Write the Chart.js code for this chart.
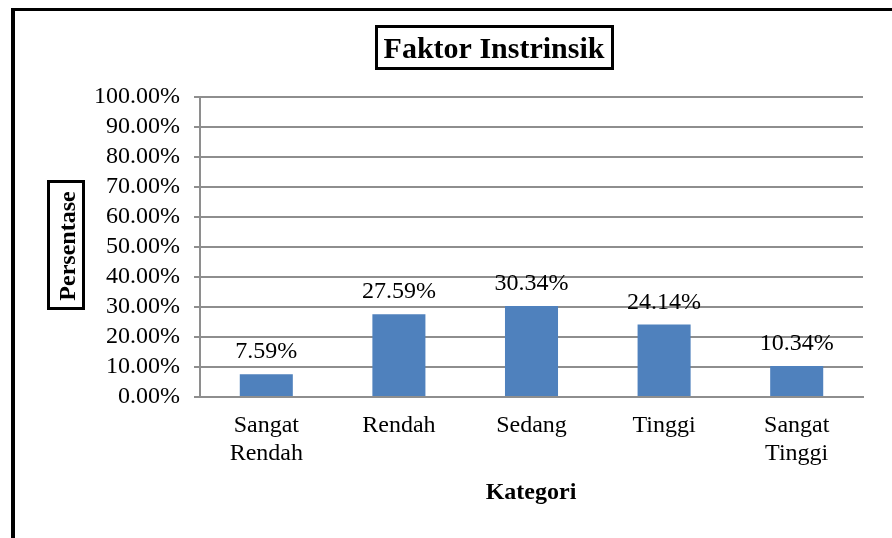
<!DOCTYPE html>
<html>
<head>
<meta charset="utf-8">
<script src="https://cdn.jsdelivr.net/npm/chart.js@4/dist/chart.umd.min.js"></script>
<style>
  html, body { margin: 0; padding: 0; background: #ffffff; }
  #wrap { width: 892px; height: 538px; position: relative; }
</style>
</head>
<body>
<div id="wrap"><canvas id="c" width="892" height="538"></canvas></div>
<script>
const categories = [["Sangat", "Rendah"], "Rendah", "Sedang", "Tinggi", ["Sangat", "Tinggi"]];
const values = [7.59, 27.59, 30.34, 24.14, 10.34];
const valueLabels = ["7.59%", "27.59%", "30.34%", "24.14%", "10.34%"];
const chartTitle = "Faktor Instrinsik";
const yTitle = "Persentase";
const xTitle = "Kategori";

const SERIF = "'Liberation Serif', 'Times New Roman', serif";
const GRID = "#8e8e8e";

const decor = {
  id: "decor",
  afterDraw(chart) {
    const ctx = chart.ctx;
    ctx.save();
    // outer frame (clipped at right/bottom)
    ctx.fillStyle = "#000";
    ctx.fillRect(11, 8, 900, 3);
    ctx.fillRect(11, 8, 4, 600);

    // title box
    ctx.font = "bold 30px " + SERIF;
    ctx.textAlign = "center";
    ctx.textBaseline = "alphabetic";
    ctx.fillStyle = "#000";
    ctx.fillText(chartTitle, 494, 58);
    ctx.lineWidth = 3;
    ctx.strokeStyle = "#000";
    ctx.strokeRect(376.5, 26.5, 236, 42);

    // y title box
    ctx.save();
    ctx.translate(75, 246);
    ctx.rotate(-Math.PI / 2);
    ctx.font = "bold 24px " + SERIF;
    ctx.textAlign = "center";
    ctx.textBaseline = "alphabetic";
    ctx.fillText(yTitle, 0, 0);
    ctx.restore();
    ctx.strokeRect(48.5, 181.5, 35, 127);

    // x title
    ctx.font = "bold 24px " + SERIF;
    ctx.textAlign = "center";
    ctx.textBaseline = "alphabetic";
    ctx.fillText(xTitle, 531, 499);

    // data labels
    const meta = chart.getDatasetMeta(0);
    ctx.font = "24px " + SERIF;
    meta.data.forEach((bar, i) => {
      ctx.fillText(valueLabels[i], bar.x, bar.y - 16);
    });
    ctx.restore();
  }
};

new Chart(document.getElementById("c"), {
  type: "bar",
  data: {
    labels: categories,
    datasets: [{
      data: values,
      backgroundColor: "#4F81BD",
      borderWidth: 0,
      barPercentage: 0.4,
      categoryPercentage: 1.0
    }]
  },
  options: {
    responsive: false,
    animation: false,
    devicePixelRatio: 1,
    layout: { padding: { top: 97, right: 29, left: 0, bottom: 0 } },
    plugins: {
      legend: { display: false },
      title: { display: false },
      tooltip: { enabled: false }
    },
    scales: {
      x: {
        grid: { display: false, drawTicks: false },
        border: { display: true, color: GRID, width: 2 },
        ticks: {
          color: "#000",
          font: { family: SERIF, size: 24, lineHeight: 1.2 },
          padding: 14,
          maxRotation: 0,
          autoSkip: false
        },
        afterFit(scale) { scale.height = 141; }
      },
      y: {
        min: 0,
        max: 100,
        grid: { color: GRID, lineWidth: 2, drawTicks: true, tickLength: 6 },
        border: { display: true, color: GRID, width: 2 },
        ticks: {
          stepSize: 10,
          autoSkip: false,
          color: "#000",
          font: { family: SERIF, size: 24 },
          padding: 14,
          callback: (v) => Number(v).toFixed(2) + "%"
        },
        afterFit(scale) { scale.width = 200; }
      }
    }
  },
  plugins: [decor]
});
</script>
</body>
</html>
